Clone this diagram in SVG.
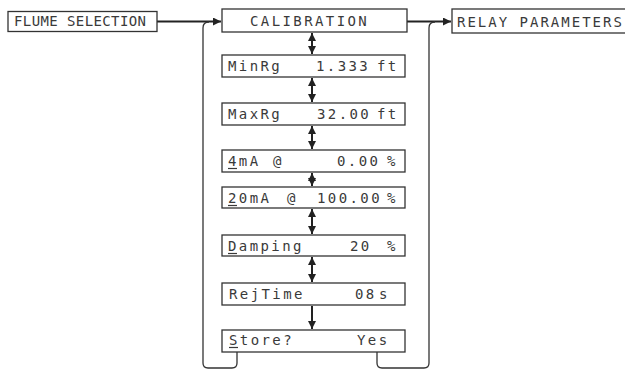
<svg xmlns="http://www.w3.org/2000/svg" width="625" height="371" viewBox="0 0 625 371">
<defs>
<style>
.box{fill:#fff;stroke:#333;stroke-width:1.3}
.t{font-family:"DejaVu Sans Mono","Liberation Mono",monospace;font-size:14px;fill:#3a3a3a;letter-spacing:2.4px}
.tn{font-family:"DejaVu Sans Mono","Liberation Mono",monospace;font-size:14px;fill:#3a3a3a;letter-spacing:0.4px}
.ul{stroke:#3a3a3a;stroke-width:1.2}
.arr{stroke:#222;stroke-width:2;fill:none}
.loop{stroke:#333;stroke-width:1.3;fill:none}
</style>
<marker id="ah" viewBox="0 0 10 10" refX="10" refY="5" markerWidth="8" markerHeight="8" markerUnits="userSpaceOnUse" orient="auto-start-reverse">
<path d="M0,0 L10,5 L0,10 z" fill="#222"/>
</marker>
</defs>
<g id="connectors">
<line class="arr" x1="157" y1="21.5" x2="221" y2="21.5" marker-end="url(#ah)"/>
<line class="arr" x1="407" y1="21.5" x2="451" y2="21.5" marker-end="url(#ah)"/>
<path class="loop" d="M237,352 V363 Q237,368 232,368 H208 Q203,368 203,363 V28 Q203,22 209,22"/>
<path class="loop" d="M377,352 V363 Q377,368 382,368 H424 Q429,368 429,363 V28 Q429,22 435,22"/>
<line class="arr" x1="312" y1="33" x2="312" y2="54" marker-start="url(#ah)" marker-end="url(#ah)"/>
<line class="arr" x1="312" y1="78" x2="312" y2="102" marker-start="url(#ah)" marker-end="url(#ah)"/>
<line class="arr" x1="312" y1="126" x2="312" y2="149" marker-start="url(#ah)" marker-end="url(#ah)"/>
<line class="arr" x1="312" y1="173" x2="312" y2="186" marker-start="url(#ah)" marker-end="url(#ah)"/>
<line class="arr" x1="312" y1="209" x2="312" y2="234" marker-start="url(#ah)" marker-end="url(#ah)"/>
<line class="arr" x1="312" y1="257" x2="312" y2="282" marker-start="url(#ah)" marker-end="url(#ah)"/>
<line class="arr" x1="312" y1="306" x2="312" y2="329" marker-end="url(#ah)"/>
</g>
<g id="flume">
<rect class="box" x="8" y="11.5" width="149" height="20"/>
<text class="tn" x="14" y="26">FLUME SELECTION</text>
</g>
<g id="calibration">
<rect class="box" x="222" y="9" width="185" height="23"/>
<text class="t" x="250" y="26">CALIBRATION</text>
</g>
<g id="relay">
<rect class="box" x="452" y="9" width="180" height="24"/>
<text class="t" x="457" y="27" style="letter-spacing:2px">RELAY PARAMETERS</text>
</g>
<g id="minrg">
<rect class="box" x="222" y="55" width="183" height="22"/>
<text class="t" x="228" y="71">MinRg</text>
<text class="t" x="316" y="71">1.333</text>
<text class="t" x="377" y="71">ft</text>
</g>
<g id="maxrg">
<rect class="box" x="222" y="103" width="183" height="22"/>
<text class="t" x="228" y="119">MaxRg</text>
<text class="t" x="317" y="119">32.00</text>
<text class="t" x="377" y="119">ft</text>
</g>
<g id="ma4">
<rect class="box" x="222" y="150" width="183" height="22"/>
<text class="t" x="228" y="166">4mA</text>
<text class="t" x="273" y="166">@</text>
<text class="t" x="337" y="166">0.00</text>
<text class="t" x="387" y="166">%</text>
<line class="ul" x1="228" y1="168.5" x2="237" y2="168.5"/>
</g>
<g id="ma20">
<rect class="box" x="222" y="187" width="183" height="21"/>
<text class="t" x="228" y="203">20mA</text>
<text class="t" x="287" y="203">@</text>
<text class="t" x="317" y="203">100.00</text>
<text class="t" x="387" y="203">%</text>
<line class="ul" x1="228" y1="205.5" x2="237" y2="205.5"/>
</g>
<g id="damping">
<rect class="box" x="222" y="235" width="183" height="21"/>
<text class="t" x="228" y="251">Damping</text>
<text class="t" x="350" y="251">20</text>
<text class="t" x="387" y="251">%</text>
<line class="ul" x1="228" y1="253.5" x2="237" y2="253.5"/>
</g>
<g id="rejtime">
<rect class="box" x="222" y="283" width="183" height="22"/>
<text class="t" x="229" y="299">RejTime</text>
<text class="t" x="355" y="299">08</text>
<text class="t" x="379" y="299">s</text>
</g>
<g id="store">
<rect class="box" x="222" y="330" width="183" height="22"/>
<text class="t" x="229" y="345">Store?</text>
<text class="t" x="357" y="345">Yes</text>
<line class="ul" x1="229" y1="347.5" x2="238" y2="347.5"/>
</g>
</svg>
